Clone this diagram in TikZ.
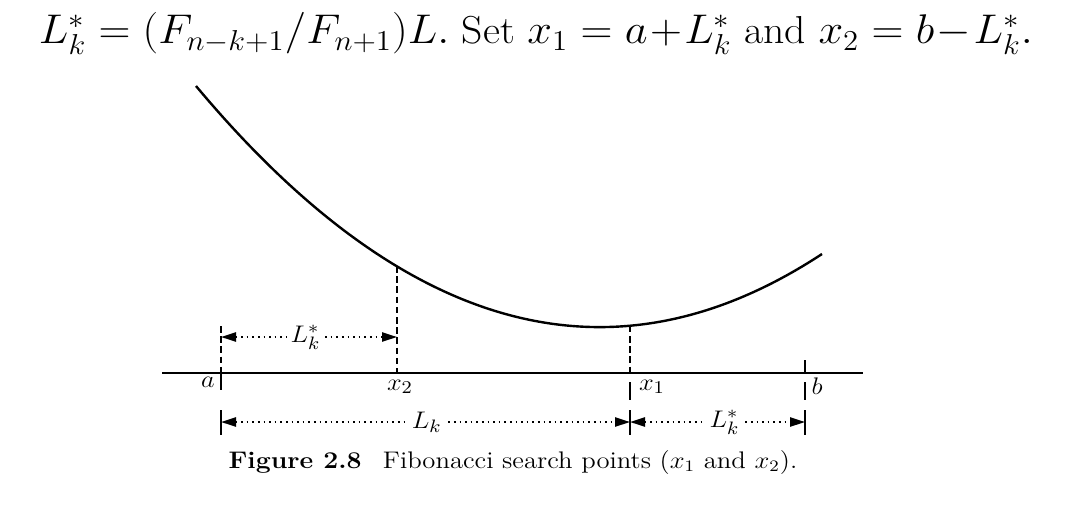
\documentclass[tikz,border=0pt]{standalone}
\usetikzlibrary{arrows.meta,calc}
\begin{document}
\begin{tikzpicture}[x=0.5pt,y=-0.5pt,
  ax/.style={line width=0.9pt},
  curve/.style={line width=1.2pt},
  dsh/.style={line width=0.9pt, dash pattern=on 3.3pt off 1.8pt},
  tk/.style={line width=0.9pt},
  dim/.style={line width=1pt, dash pattern=on 0.8pt off 2pt, {Triangle[length=7.5pt,width=4.6pt]}-{Triangle[length=7.5pt,width=4.6pt]}},
  lab/.style={font=\fontsize{12.5}{14}\selectfont, inner sep=1pt, xscale=1.1},
  dimlab/.style={font=\fontsize{12.5}{14}\selectfont, fill=white, inner sep=1.5pt, xscale=1.1}]
\useasboundingbox (0,0) rectangle (1086,508);
\node[anchor=base, font=\fontsize{19.5}{23}\selectfont, inner sep=0pt] (eq) at (536,44)
  {\resizebox{497pt}{\height}{\medmuskip=1mu $L_k^*=(F_{n-k+1}/F_{n+1})L.$ Set $x_1=a+L_k^*$ and $x_2=b-L_k^*.$}};
% axis points
\coordinate (A) at (221,373);
\coordinate (X2) at (397,373);
\coordinate (X1) at (630,373);
\coordinate (B) at (805,373);
\coordinate (c2) at (397,266);
\coordinate (c1) at (630,325.7);
\coordinate (aT) at (221,326);
% curve
\draw[curve] (196,86) .. controls (404.7,335.5) and (613.3,391.1) .. (822,254);
% dashed verticals
\draw[dsh] (c2) -- (X2);
\draw[dsh] (c1) -- (X1);
\draw[dsh] (aT) -- (A);
% axis
\draw[ax] (162,373) -- (863,373);
% ticks
\draw[tk] (A) -- ++(0,17);
\draw[tk] ($(X1)+(0,9)$) -- ++(0,18);
\draw[tk] ($(B)+(0,-13)$) -- (B);
\draw[tk] ($(B)+(0,9)$) -- ++(0,18);
% axis labels
\node[lab] (la) at (208,382) {$a$};
\node[lab] (lx2) at (400,387) {$x_2$};
\node[lab] (lx1) at (652,387) {$x_1$};
\node[lab] (lb) at (817,386) {$b$};
% top dimension
\coordinate (d1) at (221,337);
\coordinate (d2) at (397,337);
\draw[dim] (d1) -- (d2) node[dimlab, pos=0.48] (l1) {$L^*_k$};
% bottom dimension
\coordinate (e1) at (221,422);
\coordinate (e2) at (630,422);
\coordinate (e3) at (805,422);
\draw[tk] ($(e1)+(0,-12)$) -- ++(0,25);
\draw[tk] ($(e2)+(0,-12)$) -- ++(0,25);
\draw[tk] ($(e3)+(0,-12)$) -- ++(0,25);
\draw[dim] (e1) -- (e2) node[dimlab, pos=0.503] (l2) {$L_k$};
\draw[dim] (e2) -- (e3) node[dimlab, pos=0.54] (l3) {$L^*_k$};
% caption
\node[anchor=base, font=\fontsize{12}{14}\selectfont, inner sep=0pt, xscale=1.11] (cap) at (513,468)
  {\textbf{Figure 2.8}\hspace{0.8em}Fibonacci search points ($x_1$ and $x_2$).};
\end{tikzpicture}
\end{document}
